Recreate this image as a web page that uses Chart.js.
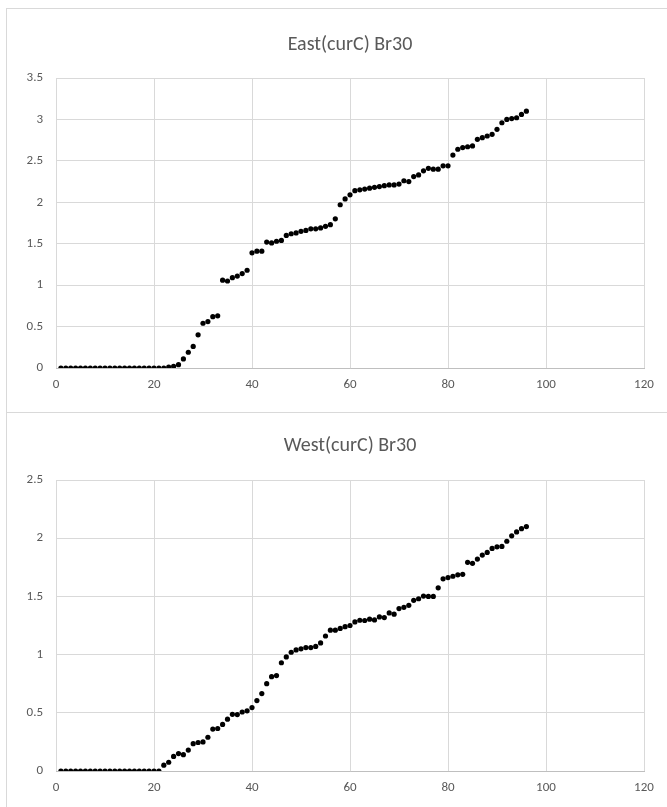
<!DOCTYPE html>
<html><head><meta charset="utf-8">
<script src="https://cdn.jsdelivr.net/npm/chart.js@4.4.0/dist/chart.umd.min.js"></script>
<style>
html,body{margin:0;padding:0;background:#fff;}
body{width:667px;height:807px;position:relative;overflow:hidden;}
.box{position:absolute;border:1px solid #d9d9d9;box-sizing:border-box;}
.wrap{position:absolute;}
</style></head><body>
<div class="box" style="left:6px;top:8px;width:662px;height:405px;"></div>
<div class="box" style="left:6px;top:412px;width:662px;height:400px;"></div>
<div class="wrap" style="left:6px;top:8px;width:660px;height:404px;"><canvas id="c1" width="660" height="404"></canvas></div>
<div class="wrap" style="left:6px;top:412px;width:660px;height:395px;"><canvas id="c2" width="660" height="395"></canvas></div>
<script>
const xValues = [1,2,3,4,5,6,7,8,9,10,11,12,13,14,15,16,17,18,19,20,21,22,23,24,25,26,27,28,29,30,31,32,33,34,35,36,37,38,39,40,41,42,43,44,45,46,47,48,49,50,51,52,53,54,55,56,57,58,59,60,61,62,63,64,65,66,67,68,69,70,71,72,73,74,75,76,77,78,79,80,81,82,83,84,85,86,87,88,89,90,91,92,93,94,95,96];

const eastValues = [0,0,0,0,0,0,0,0,0,0,0,0,0,0,0,0,0,0,0,0,0,0,0.01,0.02,0.04,0.11,0.19,0.26,0.40,0.54,
  0.56,0.62,0.63,1.06,1.05,1.09,1.11,1.14,1.18,1.39,1.41,1.41,1.52,1.51,1.53,1.54,1.60,1.62,1.63,1.65,
  1.66,1.68,1.68,1.69,1.71,1.73,1.80,1.97,2.04,2.09,2.14,2.15,2.16,2.17,2.18,2.19,2.20,2.21,2.21,2.22,
  2.26,2.25,2.31,2.33,2.38,2.41,2.40,2.40,2.44,2.44,2.57,2.64,2.66,2.67,2.68,2.76,2.78,2.80,2.82,2.88,
  2.96,3.00,3.01,3.02,3.06,3.10];

const westValues = [0,0,0,0,0,0,0,0,0,0,0,0,0,0,0,0,0,0,0,0,0,0.05,0.075,0.125,0.15,0.14,0.18,0.235,0.245,0.25,
  0.29,0.36,0.365,0.40,0.445,0.487,0.485,0.507,0.517,0.545,0.605,0.665,0.75,0.81,0.82,0.93,0.98,1.02,1.04,1.05,
  1.06,1.06,1.07,1.10,1.16,1.21,1.21,1.225,1.24,1.25,1.281,1.295,1.293,1.304,1.298,1.324,1.318,1.358,1.347,1.395,
  1.406,1.423,1.466,1.480,1.503,1.50,1.50,1.574,1.651,1.662,1.673,1.685,1.69,1.793,1.784,1.821,1.855,1.878,1.912,1.926,
  1.929,1.974,2.02,2.054,2.082,2.10];

const xTicks = [0,20,40,60,80,100,120];
const eastYTicks = [0,0.5,1,1.5,2,2.5,3,3.5];
const westYTicks = [0,0.5,1,1.5,2,2.5];
const eastTitle = 'East(curC) Br30';
const westTitle = 'West(curC) Br30';

const FONT = "Carlito, Calibri, Lato, 'Open Sans', sans-serif";
const TXT = '#595959';

function makeChart(id, title, values, yTicks, padTop, xAxisH, titleY) {
  const pts = xValues.map((x, i) => ({x: x, y: values[i]}));
  const titlePlugin = {
    id: 'fixedTitle',
    afterDraw(chart) {
      const ctx = chart.ctx, a = chart.chartArea;
      ctx.save();
      ctx.font = "20px " + FONT;
      ctx.fillStyle = TXT;
      ctx.textAlign = 'center';
      ctx.textBaseline = 'middle';
      ctx.fillText(title, (a.left + a.right) / 2, titleY);
      ctx.restore();
    }
  };
  return new Chart(document.getElementById(id), {
    type: 'scatter',
    data: {datasets: [{data: pts, backgroundColor: '#000', borderColor: '#000',
      pointRadius: 2.6, pointBorderWidth: 0, pointHoverRadius: 2.6}]},
    options: {
      responsive: false, animation: false,
      layout: {padding: {top: padTop, right: 22, left: 0, bottom: 0}},
      plugins: {legend: {display: false}, tooltip: {enabled: false}, title: {display: false}},
      scales: {
        x: {
          type: 'linear', min: xTicks[0], max: xTicks[xTicks.length - 1],
          afterBuildTicks: s => { s.ticks = xTicks.map(v => ({value: v})); },
          afterFit: s => { s.height = xAxisH; },
          grid: {color: '#d9d9d9', drawTicks: false, lineWidth: 1},
          border: {display: true, color: '#bfbfbf', width: 1},
          ticks: {padding: 9, color: TXT, font: {family: FONT, size: 13}, maxRotation: 0,
            callback: v => String(v)}
        },
        y: {
          type: 'linear', min: yTicks[0], max: yTicks[yTicks.length - 1],
          afterBuildTicks: s => { s.ticks = yTicks.map(v => ({value: v})); },
          afterFit: s => { s.width = 50; },
          grid: {color: '#d9d9d9', drawTicks: false, lineWidth: 1},
          border: {display: false},
          ticks: {padding: 13, color: TXT, font: {family: FONT, size: 13},
            callback: v => String(v)}
        }
      }
    },
    plugins: [titlePlugin]
  });
}

makeChart('c1', eastTitle, eastValues, eastYTicks, 70, 44, 37);
makeChart('c2', westTitle, westValues, westYTicks, 68, 36, 34);
</script>
</body></html>
